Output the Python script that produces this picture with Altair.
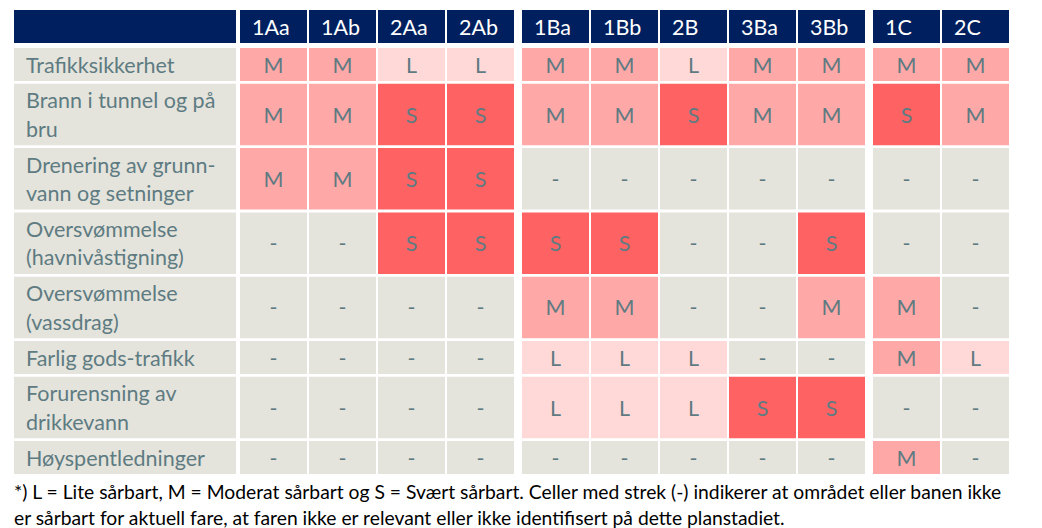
import altair as alt
import pandas as pd

# ---------------- data ----------------
columns = ["1Aa", "1Ab", "2Aa", "2Ab", "1Ba", "1Bb", "2B", "3Ba", "3Bb", "1C", "2C"]
col_groups = [0, 0, 0, 0, 1, 1, 1, 1, 1, 2, 2]
hazards = [
    "Trafikksikkerhet",
    "Brann i tunnel og på\nbru",
    "Drenering av grunn-\nvann og setninger",
    "Oversvømmelse\n(havnivåstigning)",
    "Oversvømmelse\n(vassdrag)",
    "Farlig gods-trafikk",
    "Forurensning av\ndrikkevann",
    "Høyspentledninger",
]
ratings = [
    ["M", "M", "L", "L", "M", "M", "L", "M", "M", "M", "M"],
    ["M", "M", "S", "S", "M", "M", "S", "M", "M", "S", "M"],
    ["M", "M", "S", "S", "-", "-", "-", "-", "-", "-", "-"],
    ["-", "-", "S", "S", "S", "S", "-", "-", "S", "-", "-"],
    ["-", "-", "-", "-", "M", "M", "-", "-", "M", "M", "-"],
    ["-", "-", "-", "-", "L", "L", "L", "-", "-", "M", "L"],
    ["-", "-", "-", "-", "L", "L", "L", "S", "S", "-", "-"],
    ["-", "-", "-", "-", "-", "-", "-", "-", "-", "M", "-"],
]
footnote = [
    "*) L = Lite sårbart, M = Moderat sårbart og S = Svært sårbart. Celler med strek (-) indikerer at området eller banen ikke",
    "er sårbart for aktuell fare, at faren ikke er relevant eller ikke identifisert på dette planstadiet.",
]

# ---------------- layout parameters ----------------
W, H = 1026, 512
LEFT, TOP = 6, 2
LABEL_W, LABEL_GAP = 222, 4
COL_W, GAP, GROUP_GAP = 67.0, 2, 6
HEAD_H, HEAD_GAP = 33, 5
LINE1_H, LINE2_H, ROW_GAP = 33, 61.5, 2.8
PAD = 12
LINE_H = 28.5
FONT = "Lato"
FS = 21.5
DY = 2

# column x positions
col_x = []
x = LEFT + LABEL_W + LABEL_GAP
for i in range(len(columns)):
    if i > 0:
        x += COL_W + GAP + (GROUP_GAP if col_groups[i] != col_groups[i - 1] else 0)
    col_x.append(x)

# row y positions
row_y = []
y = TOP + HEAD_H + HEAD_GAP
for h in hazards:
    hh = LINE1_H if h.count("\n") == 0 else LINE2_H
    row_y.append((y, y + hh))
    y += hh + ROW_GAP
table_bottom = y - ROW_GAP

rects, cell_txt, label_txt, head_txt = [], [], [], []
# header
rects.append(dict(x0=LEFT, x1=LEFT + LABEL_W, y0=TOP, y1=TOP + HEAD_H, k="head"))
for c, cx in zip(columns, col_x):
    rects.append(dict(x0=cx, x1=cx + COL_W, y0=TOP, y1=TOP + HEAD_H, k="head"))
    head_txt.append(dict(x=cx + PAD, y=TOP + HEAD_H / 2, t=c))
# body
for h, (y0, y1), row in zip(hazards, row_y, ratings):
    rects.append(dict(x0=LEFT, x1=LEFT + LABEL_W, y0=y0, y1=y1, k="label"))
    n_lines = h.count("\n") + 1
    label_txt.append(dict(x=LEFT + PAD, y=(y0 + y1) / 2 - (n_lines - 1) * LINE_H / 2, t=h))
    for v, cx in zip(row, col_x):
        rects.append(dict(x0=cx, x1=cx + COL_W, y0=y0, y1=y1, k=v))
        cell_txt.append(dict(x=cx + COL_W / 2, y=(y0 + y1) / 2, t=v))
foot_txt = [dict(x=LEFT, y=table_bottom + 18 + 26 * i, t=t) for i, t in enumerate(footnote)]

X = alt.X("x:Q", scale=alt.Scale(domain=[0, W], nice=False, zero=False), axis=None)
Y = alt.Y("y:Q", scale=alt.Scale(domain=[0, H], nice=False, zero=False, reverse=True), axis=None)

rect_df = pd.DataFrame(rects)
rect_layer = alt.Chart(rect_df).mark_rect(strokeWidth=0).encode(
    x=alt.X("x0:Q", scale=alt.Scale(domain=[0, W], nice=False, zero=False), axis=None),
    x2="x1:Q",
    y=alt.Y("y0:Q", scale=alt.Scale(domain=[0, H], nice=False, zero=False, reverse=True), axis=None),
    y2="y1:Q",
    color=alt.Color(
        "k:N",
        scale=alt.Scale(
            domain=["head", "label", "-", "L", "M", "S"],
            range=["#001F5F", "#E4E4DC", "#E4E4DC", "#FFD8D8", "#FFA8A8", "#FF6262"],
        ),
        legend=None,
    ),
)

cell_layer = alt.Chart(pd.DataFrame(cell_txt)).mark_text(
    font=FONT, fontSize=FS, color="#5E7B82", align="center", baseline="middle", dy=DY
).encode(x=X, y=Y, text="t:N")

label_layer = alt.Chart(pd.DataFrame(label_txt)).mark_text(
    font=FONT, fontSize=FS, color="#5E7B82", align="left", baseline="middle",
    lineBreak="\n", lineHeight=LINE_H, dy=DY,
).encode(x=X, y=Y, text="t:N")

head_layer = alt.Chart(pd.DataFrame(head_txt)).mark_text(
    font=FONT, fontSize=FS, color="white", align="left", baseline="middle", dy=DY + 0.5
).encode(x=X, y=Y, text="t:N")

foot_layer = alt.Chart(pd.DataFrame(foot_txt)).mark_text(
    font=FONT, fontSize=19.3, color="black", align="left", baseline="middle", dy=1
).encode(x=X, y=Y, text="t:N")

chart = (
    alt.layer(rect_layer, cell_layer, label_layer, head_layer, foot_layer)
    .properties(width=W, height=H, padding=0, background="white")
    .configure_view(stroke=None)
)
chart.save("out.html", embed_options={"renderer": "svg", "actions": False})
